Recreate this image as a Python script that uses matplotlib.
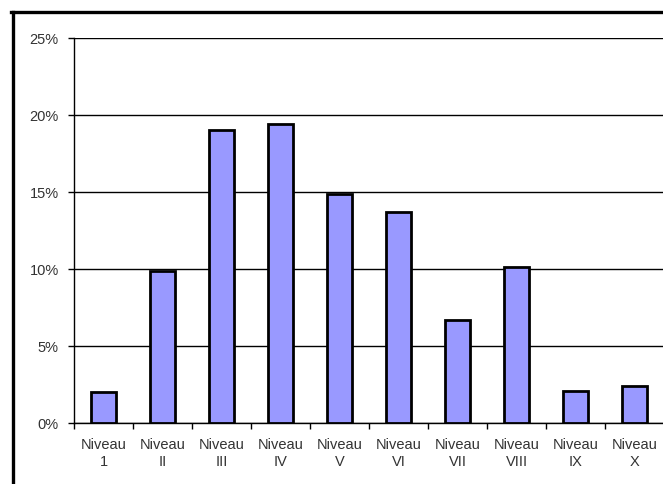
import numpy as np
import matplotlib.pyplot as plt
from matplotlib.lines import Line2D
from matplotlib.ticker import FixedLocator, PercentFormatter

plt.rcParams['font.family'] = ['Liberation Sans', 'DejaVu Sans']

niveaux = ["Niveau\n1", "Niveau\nII", "Niveau\nIII", "Niveau\nIV", "Niveau\nV",
           "Niveau\nVI", "Niveau\nVII", "Niveau\nVIII", "Niveau\nIX", "Niveau\nX"]
parts = [2.0, 9.9, 19.0, 19.4, 14.9, 13.7, 6.7, 10.1, 2.1, 2.4]  # en %
y_ticks = [0, 5, 10, 15, 20, 25]

fig = plt.figure(figsize=(6.63, 4.85), dpi=100)
ax = fig.add_axes([74 / 663, 61 / 485, 590 / 663, 385 / 485])

x = np.arange(len(parts))
ax.bar(x, parts, width=0.42, color='#9999FF', edgecolor='black', linewidth=2.0, zorder=3)

ax.set_xlim(-0.5, len(parts) - 0.5)
ax.set_ylim(0, 25)
ax.set_yticks(y_ticks)
ax.yaxis.set_major_formatter(PercentFormatter(decimals=0))
ax.yaxis.grid(True, color='black', linewidth=1.0)
ax.set_axisbelow(True)

ax.set_xticks(x)
ax.set_xticklabels(niveaux, linespacing=1.3)
ax.xaxis.set_minor_locator(FixedLocator(np.arange(-0.5, len(parts), 1.0)))
ax.tick_params(axis='x', which='major', length=0, pad=10, labelsize=10.5, labelcolor='#333333')
ax.tick_params(axis='x', which='minor', length=4, width=1, color='black', direction='out')
ax.tick_params(axis='y', length=4, width=1, pad=7, labelsize=10.5, labelcolor='#333333')

for side in ['top', 'right']:
    ax.spines[side].set_visible(False)
ax.spines['left'].set_linewidth(1.0)
ax.spines['bottom'].set_linewidth(1.0)

# cadre du graphique
fig.add_artist(Line2D([12.5 / 663, 12.5 / 663], [0, 1 - 12.5 / 485], color='black', linewidth=2.4))
fig.add_artist(Line2D([11 / 663, 1], [1 - 12.5 / 485, 1 - 12.5 / 485], color='black', linewidth=2.4))

fig.savefig('out.png', dpi=100)
